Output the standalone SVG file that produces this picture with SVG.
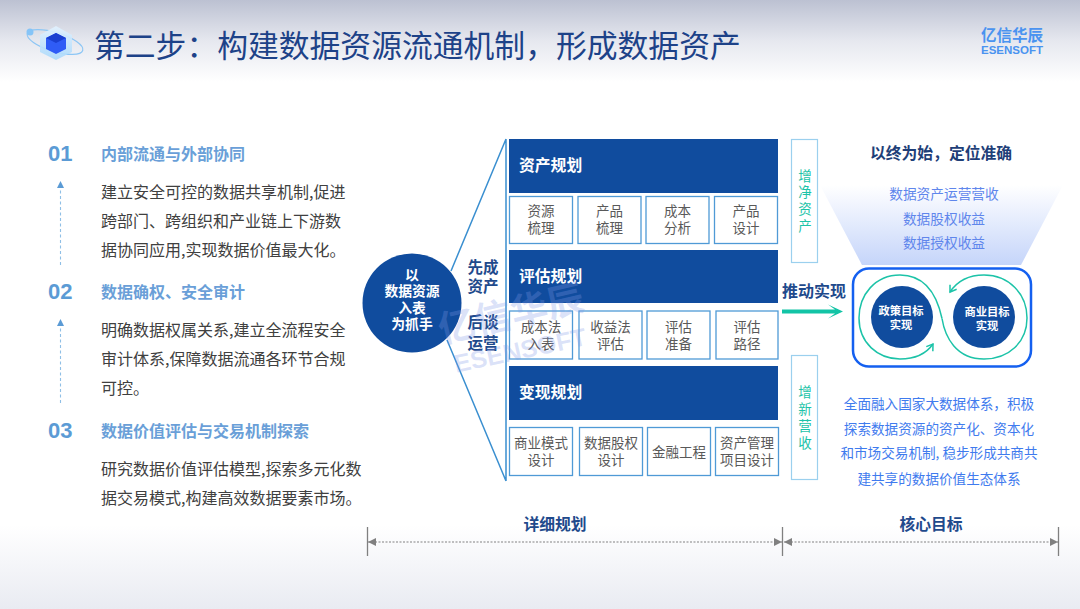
<svg xmlns="http://www.w3.org/2000/svg" width="1080" height="609" viewBox="0 0 1080 609">
<defs>
<linearGradient id="top" x1="0" y1="0" x2="0" y2="1"><stop offset="0" stop-color="#bcc1d2"/><stop offset="0.5" stop-color="#e6e8ef"/><stop offset="1" stop-color="#ffffff"/></linearGradient>
<linearGradient id="bot" x1="0" y1="0" x2="0" y2="1"><stop offset="0" stop-color="#ffffff"/><stop offset="1" stop-color="#e9ebf2"/></linearGradient>
<linearGradient id="fun" x1="0" y1="0" x2="0" y2="1"><stop offset="0" stop-color="#ffffff"/><stop offset="1" stop-color="#c5d5fa"/></linearGradient>
<linearGradient id="cube" x1="0" y1="0" x2="0" y2="1"><stop offset="0" stop-color="#e2f2ff"/><stop offset="1" stop-color="#a8d8fb"/></linearGradient>
<marker id="up" markerWidth="8" markerHeight="8" refX="1" refY="3.500" orient="auto" markerUnits="userSpaceOnUse"><path d="M0 0L7 3.500L0 7Z" fill="#5b9bd5"/></marker>
<marker id="dim" markerWidth="10" markerHeight="8" refX="8" refY="4" orient="auto-start-reverse" markerUnits="userSpaceOnUse"><path d="M0 0L8 4L0 8Z" fill="#808080"/></marker>
<marker id="loop" markerWidth="10" markerHeight="10" refX="7" refY="5" orient="auto" markerUnits="userSpaceOnUse"><path d="M1 1L7 5L1 9" fill="none" stroke="#1cc3a8" stroke-width="1.500"/></marker>
</defs>
<style>
text{font-family:"Noto Sans CJK SC","Liberation Sans",sans-serif}
.num{font:700 22px "Liberation Sans",sans-serif;fill:#5b9bd5}
.h{font-size:16px;font-weight:700;fill:#6a9fd8}
.b{font-size:16px;fill:#404040}
.band{fill:#104c9e}
.bt{font-size:15.800px;font-weight:700;fill:#fff}
.cell{fill:#fff;stroke:#4f9ad6;stroke-width:1.300}
.ct{font-size:13.500px;fill:#595959;text-anchor:middle}
.side{fill:#fff;stroke:#9bd0ee;stroke-width:1.200}
.st{font-size:13.500px;fill:#1cc3a8;text-anchor:middle}
.navy{font-size:15.500px;font-weight:700;fill:#1f4a8c;text-anchor:middle}
.inc{font-size:13.700px;fill:#5f86ec;text-anchor:middle}
.goal{font-size:11.300px;font-weight:700;fill:#fff;text-anchor:middle}
.circ{font-size:13.800px;font-weight:700;fill:#fff;text-anchor:middle}
.desc{font-size:13.600px;fill:#3f7bee;text-anchor:middle}
.conn{fill:none;stroke:#3a8fd0;stroke-width:1.500}
.dash{fill:none;stroke:#8fbfe6;stroke-width:1.100;stroke-dasharray:3 2.500}
.dimline{stroke:#aaa;stroke-width:1.300;stroke-dasharray:2 1.500}
.dimcap{stroke:#808080;stroke-width:1.300}
.wm{fill:#7f98e8;fill-opacity:.28;text-anchor:middle;font-weight:700}
</style>
<rect width="1080" height="609" fill="#fff"/>
<rect width="1080" height="82" fill="url(#top)"/>
<rect y="525" width="1080" height="84" fill="url(#bot)"/>

<g id="header-icon">
<ellipse cx="55" cy="42" rx="29" ry="9.500" transform="rotate(17 55 42)" fill="none" stroke="#8cc6f5" stroke-width="1.200"/>
<circle cx="30" cy="32" r="3.500" fill="#86c4f7"/>
<path d="M56 26L72 35V52L56 60L40 52V35Z" fill="url(#cube)" fill-opacity=".9"/>
<path d="M56 33L66 38V49L56 54L46 49V38Z" fill="#2f5cf6"/>
<path d="M56 33L66 38L56 43L46 38Z" fill="#1a3fd0"/>
</g>
<text x="94" y="57" font-size="30.800" fill="#1d4288">第二步：构建数据资源流通机制，形成数据资产</text>
<g id="logo">
<text x="1012" y="41" font-size="15.500" font-weight="700" fill="#4a93f0" text-anchor="middle">亿信华辰</text>
<text x="1012" y="54" style="font:700 11.500px 'Liberation Sans',sans-serif" fill="#4a93f0" text-anchor="middle">ESENSOFT</text>
</g>

<g id="item-01">
<text class="num" x="48" y="161">01</text>
<text class="h" x="101" y="160">内部流通与外部协同</text>
<text class="b" x="101" y="198">建立安全可控的数据共享机制,促进</text>
<text class="b" x="101" y="227">跨部门、跨组织和产业链上下游数</text>
<text class="b" x="101" y="256">据协同应用,实现数据价值最大化。</text>
</g>
<g id="item-02">
<text class="num" x="48" y="299">02</text>
<text class="h" x="101" y="298">数据确权、安全审计</text>
<text class="b" x="101" y="336">明确数据权属关系,建立全流程安全</text>
<text class="b" x="101" y="365">审计体系,保障数据流通各环节合规</text>
<text class="b" x="101" y="394">可控。</text>
</g>
<g id="item-03">
<text class="num" x="48" y="438">03</text>
<text class="h" x="101" y="437">数据价值评估与交易机制探索</text>
<text class="b" x="101" y="475">研究数据价值评估模型,探索多元化数</text>
<text class="b" x="101" y="504">据交易模式,构建高效数据要素市场。</text>
</g>

<g id="connectors">
<path class="dash" d="M60.500 265V187" marker-end="url(#up)"/>
<path class="dash" d="M60.500 403V325" marker-end="url(#up)"/>
<path class="conn" d="M451 271L506 139M447 340L506 481M506 139V481"/>
<path d="M782 309.500H835L828 304.500L843 311.500L828 318.500L835 313.500H782Z" fill="#12c4a6"/>
<line class="dimline" x1="368" y1="542" x2="782" y2="542" marker-start="url(#dim)" marker-end="url(#dim)"/>
<line class="dimline" x1="784" y1="542" x2="1058" y2="542" marker-start="url(#dim)" marker-end="url(#dim)"/>
<path class="dimcap" d="M367.500 527V556M782.500 527V556M1058.500 527V556"/>
</g>

<g id="root-node">
<circle cx="412" cy="303" r="49.500" fill="#104c9e"/>
<text class="circ" x="412" y="280">以</text>
<text class="circ" x="412" y="296">数据资源</text>
<text class="circ" x="412" y="313">入表</text>
<text class="circ" x="412" y="329">为抓手</text>
</g>
<g id="label-first"><text class="navy" x="483" y="273">先成</text><text class="navy" x="483" y="292">资产</text></g>
<g id="label-later"><text class="navy" x="483" y="328">后谈</text><text class="navy" x="483" y="349">运营</text></g>

<g id="plan-1">
<rect class="band" x="509" y="139" width="269" height="54"/>
<text class="bt" x="519" y="171">资产规划</text>
<rect class="cell" x="509.500" y="196.500" width="63" height="47"/><text class="ct" x="541" y="216">资源</text><text class="ct" x="541" y="233">梳理</text>
<rect class="cell" x="578" y="196.500" width="63" height="47"/><text class="ct" x="609.500" y="216">产品</text><text class="ct" x="609.500" y="233">梳理</text>
<rect class="cell" x="646" y="196.500" width="63" height="47"/><text class="ct" x="677.500" y="216">成本</text><text class="ct" x="677.500" y="233">分析</text>
<rect class="cell" x="714.500" y="196.500" width="63" height="47"/><text class="ct" x="746" y="216">产品</text><text class="ct" x="746" y="233">设计</text>
</g>
<g id="plan-2">
<rect class="band" x="509" y="250" width="269" height="53"/>
<text class="bt" x="519" y="282">评估规划</text>
<rect class="cell" x="509.500" y="311" width="63" height="48"/><text class="ct" x="541" y="332">成本法</text><text class="ct" x="541" y="349">入表</text>
<rect class="cell" x="579" y="311" width="63" height="48"/><text class="ct" x="610.500" y="332">收益法</text><text class="ct" x="610.500" y="349">评估</text>
<rect class="cell" x="647" y="311" width="63" height="48"/><text class="ct" x="678.500" y="332">评估</text><text class="ct" x="678.500" y="349">准备</text>
<rect class="cell" x="716" y="311" width="62" height="48"/><text class="ct" x="747" y="332">评估</text><text class="ct" x="747" y="349">路径</text>
</g>
<g id="plan-3">
<rect class="band" x="509" y="366" width="269" height="54"/>
<text class="bt" x="519" y="398">变现规划</text>
<rect class="cell" x="509.500" y="427.500" width="63" height="48"/><text class="ct" x="541" y="448">商业模式</text><text class="ct" x="541" y="465">设计</text>
<rect class="cell" x="579.500" y="427.500" width="63" height="48"/><text class="ct" x="611" y="448">数据股权</text><text class="ct" x="611" y="465">设计</text>
<rect class="cell" x="647.500" y="427.500" width="63" height="48"/><text class="ct" x="679" y="457">金融工程</text>
<rect class="cell" x="715.500" y="427.500" width="63" height="48"/><text class="ct" x="747" y="448">资产管理</text><text class="ct" x="747" y="465">项目设计</text>
</g>

<g id="watermark">
<text class="wm" transform="rotate(-13 511 314)" x="511" y="327" font-size="37">亿信华辰</text>
<text class="wm" transform="rotate(-12 520 350)" x="520" y="359" style="font-size:25px;font-family:'Liberation Sans',sans-serif">ESENSOFT</text>
</g>

<g id="side-1">
<rect class="side" x="791.500" y="139.500" width="26" height="123"/>
<text class="st" x="805" y="181">增</text><text class="st" x="805" y="197">净</text><text class="st" x="805" y="214">资</text><text class="st" x="805" y="231">产</text>
</g>
<g id="side-2">
<rect class="side" x="791.500" y="355.500" width="26" height="124"/>
<text class="st" x="805" y="397">增</text><text class="st" x="805" y="414">新</text><text class="st" x="805" y="431">营</text><text class="st" x="805" y="448">收</text>
</g>
<text x="814" y="297" font-size="16" font-weight="700" fill="#1f4a8c" text-anchor="middle">推动实现</text>

<g id="income-funnel">
<path d="M820 185H1063L1021 265H862Z" fill="url(#fun)"/>
<text x="941" y="159" font-size="15.800" font-weight="700" fill="#1f3f78" text-anchor="middle">以终为始，定位准确</text>
<text class="inc" x="944" y="199">数据资产运营营收</text>
<text class="inc" x="944" y="224">数据股权收益</text>
<text class="inc" x="944" y="248">数据授权收益</text>
</g>

<g id="goal-box">
<rect x="853" y="268.500" width="178" height="98" rx="16" fill="#fff" stroke="#1460f0" stroke-width="2.500"/>
<path d="M942 318.500C938 300 928 275 900 275C875 275 859 295 859 318C859 343 878 359 900 359C914 359 926 354 933 344" fill="none" stroke="#1cc3a8" stroke-width="1.500" marker-end="url(#loop)"/>
<path d="M942 318.500C945 337 956 359 984 359C1009 359 1027 342 1027 318C1027 294 1009 275 984 275C970 275 958 280 950 292" fill="none" stroke="#1cc3a8" stroke-width="1.500" marker-end="url(#loop)"/>
</g>
<g id="goal-policy"><circle cx="902" cy="317" r="31" fill="#104c9e"/><text class="goal" x="901" y="315">政策目标</text><text class="goal" x="901" y="329">实现</text></g>
<g id="goal-business"><circle cx="984" cy="317" r="31" fill="#104c9e"/><text class="goal" x="987" y="316">商业目标</text><text class="goal" x="987" y="330">实现</text></g>

<g id="summary">
<text class="desc" x="939" y="409">全面融入国家大数据体系，积极</text>
<text class="desc" x="939" y="434">探索数据资源的资产化、资本化</text>
<text class="desc" x="939" y="458">和市场交易机制, 稳步形成共商共</text>
<text class="desc" x="939" y="484">建共享的数据价值生态体系</text>
</g>
<text x="555" y="530" font-size="15.800" font-weight="700" fill="#1f4a8c" text-anchor="middle">详细规划</text>
<text x="931" y="530" font-size="15.800" font-weight="700" fill="#1f4a8c" text-anchor="middle">核心目标</text>
</svg>
